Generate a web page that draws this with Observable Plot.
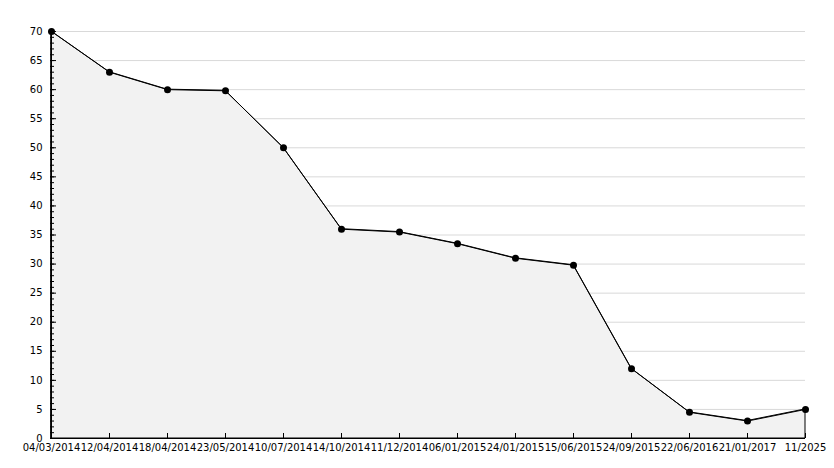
<!DOCTYPE html>
<html>
<head>
<meta charset="utf-8">
<script src="https://cdn.jsdelivr.net/npm/d3@7"></script>
<script src="https://cdn.jsdelivr.net/npm/@observablehq/plot@0.6"></script>
<style>
  html, body { margin: 0; padding: 0; background: #fff; }
  #chart svg { display: block; }
</style>
</head>
<body>
<div id="chart"></div>
<script>
const dates = ["04/03/2014","12/04/2014","18/04/2014","23/05/2014","10/07/2014","14/10/2014","11/12/2014","06/01/2015","24/01/2015","15/06/2015","24/09/2015","22/06/2016","21/01/2017","11/2025"];
const values = [70, 63, 60, 59.8, 50, 36, 35.5, 33.5, 31, 29.8, 12, 4.5, 3, 5];
const majorTicks = [0,5,10,15,20,25,30,35,40,45,50,55,60,65,70];
const minorTicks = d3.range(0, 71, 1);

const data = dates.map((d, i) => ({date: d, value: values[i]}));

const chart = Plot.plot({
  width: 834,
  height: 468,
  marginLeft: 50,
  marginRight: 29,
  marginTop: 31,
  marginBottom: 30,
  style: {fontFamily: "DejaVu Sans", fontSize: "10px", color: "#000", background: "#fff"},
  x: {type: "point", domain: dates, padding: 0, label: null},
  y: {domain: [0, 70], label: null},
  marks: [
    Plot.gridY(majorTicks, {stroke: "#d9d9d9", strokeOpacity: 1}),
    Plot.areaY(data, {x: "date", y: "value", fill: "#f2f2f2", stroke: "#000", strokeWidth: 1}),
    Plot.axisY(minorTicks, {tickSize: -4, text: null, label: null, stroke: "#000"}),
    Plot.axisY(majorTicks, {tickSize: -6, text: null, label: null, stroke: "#000"}),
    Plot.axisY(majorTicks, {tickSize: 0, tickPadding: 8, label: null, fill: "#000"}),
    Plot.axisX(dates, {tickSize: -5, text: null, label: null, stroke: "#000"}),
    Plot.axisX(dates, {tickSize: 0, tickPadding: 5, label: null, fill: "#000"}),
    Plot.ruleY([0], {stroke: "#000"}),
    Plot.ruleX([dates[0]], {y1: 0, y2: 70, stroke: "#000"}),
    Plot.line(data, {x: "date", y: "value", stroke: "#000", strokeWidth: 1}),
    Plot.dot(data, {x: "date", y: "value", r: 3.5, fill: "#000", stroke: "none"})
  ]
});
document.getElementById("chart").appendChild(chart);
</script>
</body>
</html>
